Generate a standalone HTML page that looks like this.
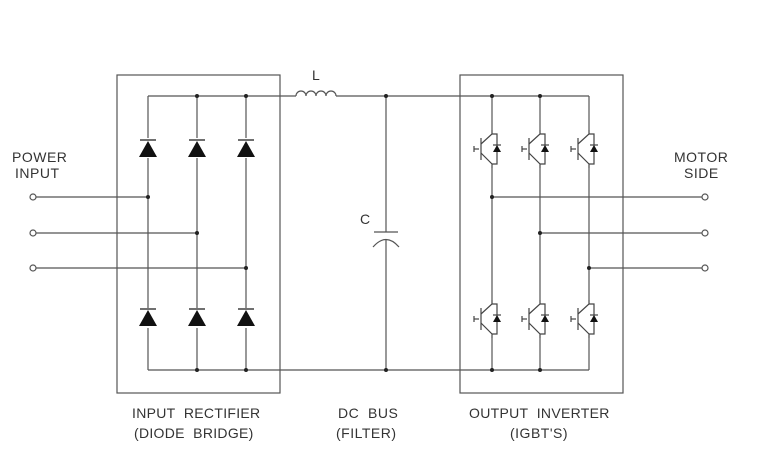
<!DOCTYPE html>
<html><head><style>
html,body{margin:0;padding:0;background:#fff;}
svg{display:block}
text{font-family:"Liberation Sans",sans-serif;font-size:14px;fill:#333;letter-spacing:0.5px}
</style></head><body>
<svg width="761" height="450" viewBox="0 0 761 450" xmlns="http://www.w3.org/2000/svg">
<defs>
<g id="d"><line x1="-8" y1="0" x2="8" y2="0" stroke="#222" stroke-width="1.3"/><polygon points="-9,17 9,17 0,1" fill="#111"/></g>
<g id="q" stroke="#444" stroke-width="1.2" fill="none">
 <path d="M0,0 V4 L-11,14"/>
 <line x1="-11" y1="8" x2="-11" y2="30"/>
 <line x1="-18" y1="19" x2="-13" y2="19"/>
 <line x1="-18" y1="16" x2="-18" y2="22"/>
 <path d="M-11,23 L0,34 V38"/>
 <path d="M0,4 H5 V34 H0"/>
 <polygon points="1,22 9,22 5,15" fill="#111" stroke="none"/>
 <line x1="1" y1="15" x2="9" y2="15"/>
</g>
</defs>
<g stroke="#555" stroke-width="1.2" fill="none">
 <rect x="117" y="75" width="163" height="318"/>
 <rect x="460" y="75" width="163" height="318"/>
 <line x1="148" y1="96" x2="296" y2="96"/>
 <path d="M296,96 a5,5 0 0 1 10,0 a5,5 0 0 1 10,0 a5,5 0 0 1 10,0 a5,5 0 0 1 10,0"/>
 <line x1="336" y1="96" x2="589" y2="96"/>
 <line x1="148" y1="370" x2="589" y2="370"/>
 <line x1="148" y1="96" x2="148" y2="370"/>
 <line x1="197" y1="96" x2="197" y2="370"/>
 <line x1="246" y1="96" x2="246" y2="370"/>
 <line x1="386" y1="96" x2="386" y2="232"/>
 <line x1="374" y1="232" x2="398" y2="232"/>
 <path d="M373,247 Q386,232 399,247"/>
 <line x1="386" y1="240" x2="386" y2="370"/>
 <line x1="36" y1="197" x2="148" y2="197"/>
 <line x1="36" y1="233" x2="197" y2="233"/>
 <line x1="36" y1="268" x2="246" y2="268"/>
 <line x1="492" y1="197" x2="702" y2="197"/>
 <line x1="540" y1="233" x2="702" y2="233"/>
 <line x1="589" y1="268" x2="702" y2="268"/>
 <line x1="492" y1="96" x2="492" y2="130"/><line x1="492" y1="168" x2="492" y2="300"/><line x1="492" y1="338" x2="492" y2="370"/>
 <line x1="540" y1="96" x2="540" y2="130"/><line x1="540" y1="168" x2="540" y2="300"/><line x1="540" y1="338" x2="540" y2="370"/>
 <line x1="589" y1="96" x2="589" y2="130"/><line x1="589" y1="168" x2="589" y2="300"/><line x1="589" y1="338" x2="589" y2="370"/>
 <circle cx="33" cy="197" r="3"/><circle cx="33" cy="233" r="3"/><circle cx="33" cy="268" r="3"/>
 <circle cx="705" cy="197" r="3"/><circle cx="705" cy="233" r="3"/><circle cx="705" cy="268" r="3"/>
</g>
<rect x="140" y="138" width="16" height="20" fill="#fff"/><rect x="189" y="138" width="16" height="20" fill="#fff"/><rect x="238" y="138" width="16" height="20" fill="#fff"/>
<rect x="140" y="308" width="16" height="20" fill="#fff"/><rect x="189" y="308" width="16" height="20" fill="#fff"/><rect x="238" y="308" width="16" height="20" fill="#fff"/>
<use href="#d" x="148" y="140"/><use href="#d" x="197" y="140"/><use href="#d" x="246" y="140"/>
<use href="#d" x="148" y="309"/><use href="#d" x="197" y="309"/><use href="#d" x="246" y="309"/>
<use href="#q" x="492" y="130"/><use href="#q" x="540" y="130"/><use href="#q" x="589" y="130"/>
<use href="#q" x="492" y="300"/><use href="#q" x="540" y="300"/><use href="#q" x="589" y="300"/>
<g fill="#222">
 <circle cx="197" cy="96" r="2"/><circle cx="246" cy="96" r="2"/><circle cx="386" cy="96" r="2"/><circle cx="492" cy="96" r="2"/><circle cx="540" cy="96" r="2"/>
 <circle cx="197" cy="370" r="2"/><circle cx="246" cy="370" r="2"/><circle cx="386" cy="370" r="2"/><circle cx="492" cy="370" r="2"/><circle cx="540" cy="370" r="2"/>
 <circle cx="148" cy="197" r="2"/><circle cx="197" cy="233" r="2"/><circle cx="246" cy="268" r="2"/>
 <circle cx="492" cy="197" r="2"/><circle cx="540" cy="233" r="2"/><circle cx="589" cy="268" r="2"/>
</g>
<text x="312" y="80">L</text>
<text x="360" y="224">C</text>
<text x="12" y="162">POWER</text>
<text x="15" y="178">INPUT</text>
<text x="674" y="162">MOTOR</text>
<text x="684" y="178">SIDE</text>
<text x="132" y="418" style="letter-spacing:0.3px">INPUT&#160; RECTIFIER</text>
<text x="134" y="438" style="letter-spacing:0.3px">(DIODE&#160; BRIDGE)</text>
<text x="338" y="418" style="letter-spacing:0.5px">DC&#160; BUS</text>
<text x="336" y="438" style="letter-spacing:0.5px">(FILTER)</text>
<text x="469" y="418" style="letter-spacing:0.3px">OUTPUT&#160; INVERTER</text>
<text x="510" y="438" style="letter-spacing:0.5px">(IGBT'S)</text>
</svg>
</body></html>
